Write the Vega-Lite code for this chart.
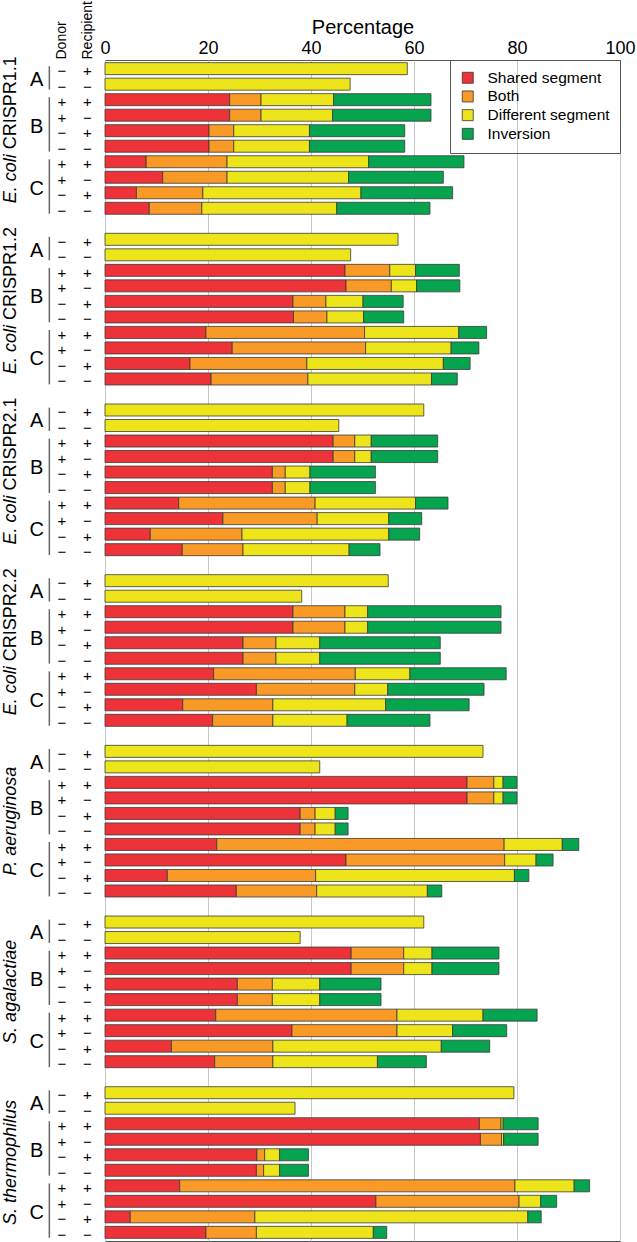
{
  "$schema": "https://vega.github.io/schema/vega-lite/v6.json",
  "padding": {"left": 0, "top": 0, "right": 0, "bottom": 0},
  "config": {"font": "Liberation Sans", "view": {"stroke": "#555"}},
  "bounds": "flush",
  "spacing": 0,
  "resolve": {"scale": {"y": "shared", "color": "independent"}, "legend": {"color": "independent"}},
  "datasets": {
    "cats": [
      {"cat": "Shared segment", "k": 1},
      {"cat": "Both", "k": 2},
      {"cat": "Different segment", "k": 3},
      {"cat": "Inversion", "k": 4}
    ],
    "subs": [
      {"sub": "A", "mid": "1.01", "first": "1.01", "last": "1.02"},
      {"sub": "B", "mid": "1.04", "first": "1.03", "last": "1.06"},
      {"sub": "C", "mid": "1.08", "first": "1.07", "last": "1.10"},
      {"sub": "A", "mid": "2.01", "first": "2.01", "last": "2.02"},
      {"sub": "B", "mid": "2.04", "first": "2.03", "last": "2.06"},
      {"sub": "C", "mid": "2.08", "first": "2.07", "last": "2.10"},
      {"sub": "A", "mid": "3.01", "first": "3.01", "last": "3.02"},
      {"sub": "B", "mid": "3.04", "first": "3.03", "last": "3.06"},
      {"sub": "C", "mid": "3.08", "first": "3.07", "last": "3.10"},
      {"sub": "A", "mid": "4.01", "first": "4.01", "last": "4.02"},
      {"sub": "B", "mid": "4.04", "first": "4.03", "last": "4.06"},
      {"sub": "C", "mid": "4.08", "first": "4.07", "last": "4.10"},
      {"sub": "A", "mid": "5.01", "first": "5.01", "last": "5.02"},
      {"sub": "B", "mid": "5.04", "first": "5.03", "last": "5.06"},
      {"sub": "C", "mid": "5.08", "first": "5.07", "last": "5.10"},
      {"sub": "A", "mid": "6.01", "first": "6.01", "last": "6.02"},
      {"sub": "B", "mid": "6.04", "first": "6.03", "last": "6.06"},
      {"sub": "C", "mid": "6.08", "first": "6.07", "last": "6.10"},
      {"sub": "A", "mid": "7.01", "first": "7.01", "last": "7.02"},
      {"sub": "B", "mid": "7.04", "first": "7.03", "last": "7.06"},
      {"sub": "C", "mid": "7.08", "first": "7.07", "last": "7.10"}
    ],
    "rows": [
      {"row": "1.01", "d": "−", "r": "+", "Different segment": 58.7},
      {"row": "1.02", "d": "−", "r": "−", "Different segment": 47.6},
      {"row": "1.03", "d": "+", "r": "+", "Shared segment": 24.2, "Both": 6.1, "Different segment": 14.1, "Inversion": 18.9},
      {"row": "1.04", "d": "+", "r": "−", "Shared segment": 24.2, "Both": 6.1, "Different segment": 13.9, "Inversion": 19.1},
      {"row": "1.05", "d": "−", "r": "+", "Shared segment": 20.2, "Both": 4.8, "Different segment": 14.7, "Inversion": 18.5},
      {"row": "1.06", "d": "−", "r": "−", "Shared segment": 20.2, "Both": 4.8, "Different segment": 14.7, "Inversion": 18.5},
      {"row": "1.07", "d": "+", "r": "+", "Shared segment": 8.0, "Both": 15.7, "Different segment": 27.5, "Inversion": 18.5},
      {"row": "1.08", "d": "+", "r": "−", "Shared segment": 11.2, "Both": 12.5, "Different segment": 23.6, "Inversion": 18.4},
      {"row": "1.09", "d": "−", "r": "+", "Shared segment": 6.1, "Both": 12.9, "Different segment": 30.7, "Inversion": 17.8},
      {"row": "1.10", "d": "−", "r": "−", "Shared segment": 8.6, "Both": 10.2, "Different segment": 26.2, "Inversion": 18.1},

      {"row": "2.01", "d": "−", "r": "+", "Different segment": 56.9},
      {"row": "2.02", "d": "−", "r": "−", "Different segment": 47.7},
      {"row": "2.03", "d": "+", "r": "+", "Shared segment": 46.6, "Both": 8.7, "Different segment": 5.0, "Inversion": 8.5},
      {"row": "2.04", "d": "+", "r": "−", "Shared segment": 46.8, "Both": 8.8, "Different segment": 4.9, "Inversion": 8.4},
      {"row": "2.05", "d": "−", "r": "+", "Shared segment": 36.5, "Both": 6.4, "Different segment": 7.2, "Inversion": 7.8},
      {"row": "2.06", "d": "−", "r": "−", "Shared segment": 36.6, "Both": 6.5, "Different segment": 7.1, "Inversion": 7.8},
      {"row": "2.07", "d": "+", "r": "+", "Shared segment": 19.6, "Both": 30.8, "Different segment": 18.3, "Inversion": 5.4},
      {"row": "2.08", "d": "+", "r": "−", "Shared segment": 24.7, "Both": 25.9, "Different segment": 16.6, "Inversion": 5.4},
      {"row": "2.09", "d": "−", "r": "+", "Shared segment": 16.5, "Both": 22.7, "Different segment": 26.5, "Inversion": 5.2},
      {"row": "2.10", "d": "−", "r": "−", "Shared segment": 20.6, "Both": 18.8, "Different segment": 24.0, "Inversion": 5.0},

      {"row": "3.01", "d": "−", "r": "+", "Different segment": 61.9},
      {"row": "3.02", "d": "−", "r": "−", "Different segment": 45.4},
      {"row": "3.03", "d": "+", "r": "+", "Shared segment": 44.3, "Both": 4.2, "Different segment": 3.2, "Inversion": 12.9},
      {"row": "3.04", "d": "+", "r": "−", "Shared segment": 44.3, "Both": 4.2, "Different segment": 3.2, "Inversion": 12.9},
      {"row": "3.05", "d": "−", "r": "+", "Shared segment": 32.5, "Both": 2.5, "Different segment": 4.8, "Inversion": 12.7},
      {"row": "3.06", "d": "−", "r": "−", "Shared segment": 32.5, "Both": 2.5, "Different segment": 4.8, "Inversion": 12.7},
      {"row": "3.07", "d": "+", "r": "+", "Shared segment": 14.3, "Both": 26.5, "Different segment": 19.5, "Inversion": 6.3},
      {"row": "3.08", "d": "+", "r": "−", "Shared segment": 22.9, "Both": 18.3, "Different segment": 13.9, "Inversion": 6.4},
      {"row": "3.09", "d": "−", "r": "+", "Shared segment": 8.8, "Both": 17.8, "Different segment": 28.5, "Inversion": 6.0},
      {"row": "3.10", "d": "−", "r": "−", "Shared segment": 15.0, "Both": 11.8, "Different segment": 20.6, "Inversion": 6.0},

      {"row": "4.01", "d": "−", "r": "+", "Different segment": 55.0},
      {"row": "4.02", "d": "−", "r": "−", "Different segment": 38.2},
      {"row": "4.03", "d": "+", "r": "+", "Shared segment": 36.5, "Both": 10.1, "Different segment": 4.4, "Inversion": 25.9},
      {"row": "4.04", "d": "+", "r": "−", "Shared segment": 36.5, "Both": 10.1, "Different segment": 4.4, "Inversion": 25.9},
      {"row": "4.05", "d": "−", "r": "+", "Shared segment": 26.8, "Both": 6.4, "Different segment": 8.5, "Inversion": 23.4},
      {"row": "4.06", "d": "−", "r": "−", "Shared segment": 26.8, "Both": 6.4, "Different segment": 8.5, "Inversion": 23.4},
      {"row": "4.07", "d": "+", "r": "+", "Shared segment": 21.1, "Both": 27.5, "Different segment": 10.6, "Inversion": 18.7},
      {"row": "4.08", "d": "+", "r": "−", "Shared segment": 29.4, "Both": 19.1, "Different segment": 6.4, "Inversion": 18.7},
      {"row": "4.09", "d": "−", "r": "+", "Shared segment": 15.1, "Both": 17.5, "Different segment": 21.9, "Inversion": 16.2},
      {"row": "4.10", "d": "−", "r": "−", "Shared segment": 20.9, "Both": 11.7, "Different segment": 14.4, "Inversion": 16.1},

      {"row": "5.01", "d": "−", "r": "+", "Different segment": 73.4},
      {"row": "5.02", "d": "−", "r": "−", "Different segment": 41.7},
      {"row": "5.03", "d": "+", "r": "+", "Shared segment": 70.3, "Both": 5.2, "Different segment": 1.8, "Inversion": 2.7},
      {"row": "5.04", "d": "+", "r": "−", "Shared segment": 70.3, "Both": 5.2, "Different segment": 1.8, "Inversion": 2.7},
      {"row": "5.05", "d": "−", "r": "+", "Shared segment": 37.9, "Both": 2.9, "Different segment": 3.9, "Inversion": 2.5},
      {"row": "5.06", "d": "−", "r": "−", "Shared segment": 37.9, "Both": 2.9, "Different segment": 3.9, "Inversion": 2.5},
      {"row": "5.07", "d": "+", "r": "+", "Shared segment": 21.7, "Both": 55.8, "Different segment": 11.3, "Inversion": 3.2},
      {"row": "5.08", "d": "+", "r": "−", "Shared segment": 46.8, "Both": 30.8, "Different segment": 6.1, "Inversion": 3.3},
      {"row": "5.09", "d": "−", "r": "+", "Shared segment": 12.1, "Both": 28.8, "Different segment": 38.6, "Inversion": 2.8},
      {"row": "5.10", "d": "−", "r": "−", "Shared segment": 25.5, "Both": 15.6, "Different segment": 21.5, "Inversion": 2.8},

      {"row": "6.01", "d": "−", "r": "+", "Different segment": 61.9},
      {"row": "6.02", "d": "−", "r": "−", "Different segment": 37.9},
      {"row": "6.03", "d": "+", "r": "+", "Shared segment": 47.8, "Both": 10.2, "Different segment": 5.5, "Inversion": 13.0},
      {"row": "6.04", "d": "+", "r": "−", "Shared segment": 47.8, "Both": 10.2, "Different segment": 5.5, "Inversion": 13.0},
      {"row": "6.05", "d": "−", "r": "+", "Shared segment": 25.7, "Both": 6.8, "Different segment": 9.2, "Inversion": 11.9},
      {"row": "6.06", "d": "−", "r": "−", "Shared segment": 25.7, "Both": 6.8, "Different segment": 9.2, "Inversion": 11.9},
      {"row": "6.07", "d": "+", "r": "+", "Shared segment": 21.5, "Both": 35.2, "Different segment": 16.7, "Inversion": 10.5},
      {"row": "6.08", "d": "+", "r": "−", "Shared segment": 36.3, "Both": 20.4, "Different segment": 10.8, "Inversion": 10.5},
      {"row": "6.09", "d": "−", "r": "+", "Shared segment": 12.9, "Both": 19.7, "Different segment": 32.7, "Inversion": 9.4},
      {"row": "6.10", "d": "−", "r": "−", "Shared segment": 21.3, "Both": 11.3, "Different segment": 20.3, "Inversion": 9.5},

      {"row": "7.01", "d": "−", "r": "+", "Different segment": 79.4},
      {"row": "7.02", "d": "−", "r": "−", "Different segment": 36.9},
      {"row": "7.03", "d": "+", "r": "+", "Shared segment": 72.7, "Both": 4.2, "Different segment": 0.4, "Inversion": 6.8},
      {"row": "7.04", "d": "+", "r": "−", "Shared segment": 72.9, "Both": 4.1, "Different segment": 0.4, "Inversion": 6.7},
      {"row": "7.05", "d": "−", "r": "+", "Shared segment": 29.5, "Both": 1.5, "Different segment": 2.9, "Inversion": 5.6},
      {"row": "7.06", "d": "−", "r": "−", "Shared segment": 29.4, "Both": 1.4, "Different segment": 3.1, "Inversion": 5.6},
      {"row": "7.07", "d": "+", "r": "+", "Shared segment": 14.5, "Both": 65.1, "Different segment": 11.5, "Inversion": 3.0},
      {"row": "7.08", "d": "+", "r": "−", "Shared segment": 52.6, "Both": 27.8, "Different segment": 4.2, "Inversion": 3.1},
      {"row": "7.09", "d": "−", "r": "+", "Shared segment": 4.9, "Both": 24.2, "Different segment": 53.0, "Inversion": 2.6},
      {"row": "7.10", "d": "−", "r": "−", "Shared segment": 19.6, "Both": 9.8, "Different segment": 22.7, "Inversion": 2.6}
    ]
  },
  "hconcat": [
    {
      "width": 105,
      "height": 1181,
      "view": {"stroke": null},
      "layer": [
        {
          "data": {"name": "rows"},
          "mark": {"type": "text", "fontSize": 15, "align": "center", "baseline": "middle", "color": "black"},
          "encoding": {
            "x": {
              "datum": "donor", "type": "nominal",
              "scale": {"type": "point", "domain": ["_0", "name", "_2", "_3", "_4", "letter", "_6", "line", "_8", "donor", "_10", "_11", "_12", "recipient", "_14", "_15"], "padding": 0.8},
              "axis": {"orient": "top", "title": null, "values": ["donor", "recipient"], "labelExpr": "datum.value == 'donor' ? 'Donor' : 'Recipient'", "labelAngle": 270, "labelAlign": "left", "labelBaseline": "middle", "labelFontSize": 14, "labelColor": "black", "labelPadding": 1, "ticks": false, "domain": false, "grid": false, "labelOverlap": false}
            },
            "y": {"field": "row", "type": "ordinal", "scale": {"type": "band"}, "axis": null, "bandPosition": 0.7},
            "text": {"field": "d"}
          }
        },
        {
          "data": {"name": "rows"},
          "mark": {"type": "text", "fontSize": 15, "align": "center", "baseline": "middle", "color": "black"},
          "encoding": {
            "x": {"datum": "recipient", "type": "nominal"},
            "y": {"field": "row", "type": "ordinal", "scale": {"type": "band"}, "axis": null, "bandPosition": 0.7},
            "text": {"field": "r"}
          }
        },
        {
          "data": {"name": "subs"},
          "mark": {"type": "text", "fontSize": 20, "align": "center", "baseline": "middle", "color": "black"},
          "encoding": {
            "x": {"datum": "letter", "type": "nominal"},
            "y": {"field": "mid", "type": "ordinal", "scale": {"type": "band"}, "axis": null, "bandPosition": 1.45},
            "text": {"field": "sub"}
          }
        },
        {
          "data": {"name": "subs"},
          "mark": {"type": "rule", "color": "#666", "strokeWidth": 1.5},
          "encoding": {
            "x": {"datum": "line", "type": "nominal"},
            "y": {"field": "first", "type": "ordinal", "scale": {"type": "band"}, "axis": null, "bandPosition": 0.3},
            "y2": {"field": "last", "bandPosition": 0.95}
          }
        },
        {
          "data": {"values": [
            {"row": "1.06", "t": "E. coli"},
            {"row": "2.06", "t": "E. coli"},
            {"row": "3.06", "t": "E. coli"},
            {"row": "4.06", "t": "E. coli"}
          ]},
          "mark": {"type": "text", "fontSize": 18, "fontStyle": "italic", "angle": 270, "align": "right", "baseline": "middle", "dx": -2, "color": "black"},
          "encoding": {
            "x": {"datum": "name", "type": "nominal"},
            "y": {"field": "row", "type": "ordinal", "scale": {"type": "band"}, "axis": null, "bandPosition": 1.0},
            "text": {"field": "t"}
          }
        },
        {
          "data": {"values": [
            {"row": "1.06", "t": "CRISPR1.1"},
            {"row": "2.06", "t": "CRISPR1.2"},
            {"row": "3.06", "t": "CRISPR2.1"},
            {"row": "4.06", "t": "CRISPR2.2"}
          ]},
          "mark": {"type": "text", "fontSize": 18, "angle": 270, "align": "left", "baseline": "middle", "dx": 3, "color": "black"},
          "encoding": {
            "x": {"datum": "name", "type": "nominal"},
            "y": {"field": "row", "type": "ordinal", "scale": {"type": "band"}, "axis": null, "bandPosition": 1.0},
            "text": {"field": "t"}
          }
        },
        {
          "data": {"values": [
            {"row": "5.05", "t": "P. aeruginosa"},
            {"row": "6.05", "t": "S. agalactiae"},
            {"row": "7.05", "t": "S. thermophilus"}
          ]},
          "mark": {"type": "text", "fontSize": 18, "fontStyle": "italic", "angle": 270, "align": "center", "baseline": "middle", "color": "black"},
          "encoding": {
            "x": {"datum": "name", "type": "nominal"},
            "y": {"field": "row", "type": "ordinal", "scale": {"type": "band"}, "axis": null, "bandPosition": 1.146},
            "text": {"field": "t"}
          }
        }
      ]
    },
    {
      "width": 515,
      "height": 1181,
      "data": {"name": "rows"},
      "transform": [
        {"fold": ["Shared segment", "Both", "Different segment", "Inversion"], "as": ["cat", "value"]},
        {"filter": "datum.value > 0"},
        {"lookup": "cat", "from": {"data": {"name": "cats"}, "key": "cat", "fields": ["k"]}}
      ],
      "mark": {"type": "bar", "stroke": "#3a3a3a", "strokeWidth": 0.8},
      "encoding": {
        "y": {
          "field": "row", "type": "ordinal", "axis": null,
          "scale": {
            "type": "band",
            "paddingInner": 0.226, "paddingOuter": 0.17,
            "domain": ["1.01","1.02","1.03","1.04","1.05","1.06","1.07","1.08","1.09","1.10","1.11",
                       "2.01","2.02","2.03","2.04","2.05","2.06","2.07","2.08","2.09","2.10","2.11",
                       "3.01","3.02","3.03","3.04","3.05","3.06","3.07","3.08","3.09","3.10","3.11",
                       "4.01","4.02","4.03","4.04","4.05","4.06","4.07","4.08","4.09","4.10","4.11",
                       "5.01","5.02","5.03","5.04","5.05","5.06","5.07","5.08","5.09","5.10","5.11",
                       "6.01","6.02","6.03","6.04","6.05","6.06","6.07","6.08","6.09","6.10","6.11",
                       "7.01","7.02","7.03","7.04","7.05","7.06","7.07","7.08","7.09","7.10"]
          }
        },
        "x": {
          "field": "value", "type": "quantitative", "stack": "zero",
          "scale": {"domain": [0, 100], "nice": false},
          "axis": {"orient": "top", "title": "Percentage", "titleFontSize": 20, "titleFontWeight": "normal", "titleColor": "black", "titlePadding": 2, "labelFontSize": 18, "labelColor": "black", "labelPadding": 3, "labelFlush": false, "labelOverlap": false, "ticks": false, "domain": false, "grid": true, "gridColor": "#c8c8c8", "gridWidth": 1, "values": [0, 20, 40, 60, 80, 100]}
        },
        "color": {
          "field": "cat", "type": "nominal",
          "scale": {"domain": ["Shared segment", "Both", "Different segment", "Inversion"], "range": ["#ED3338", "#F89A25", "#EDE51A", "#06A44F"]},
          "legend": {"title": null, "orient": "top-right", "offset": 0, "padding": 10, "strokeColor": "#555", "symbolType": "square", "symbolSize": 121, "symbolStrokeColor": "#333", "symbolStrokeWidth": 0.8, "symbolOpacity": 1, "labelFontSize": 15.5, "labelColor": "black", "labelOffset": 12, "rowPadding": 1.7}
        },
        "order": {"field": "k", "type": "quantitative"}
      }
    }
  ]
}
